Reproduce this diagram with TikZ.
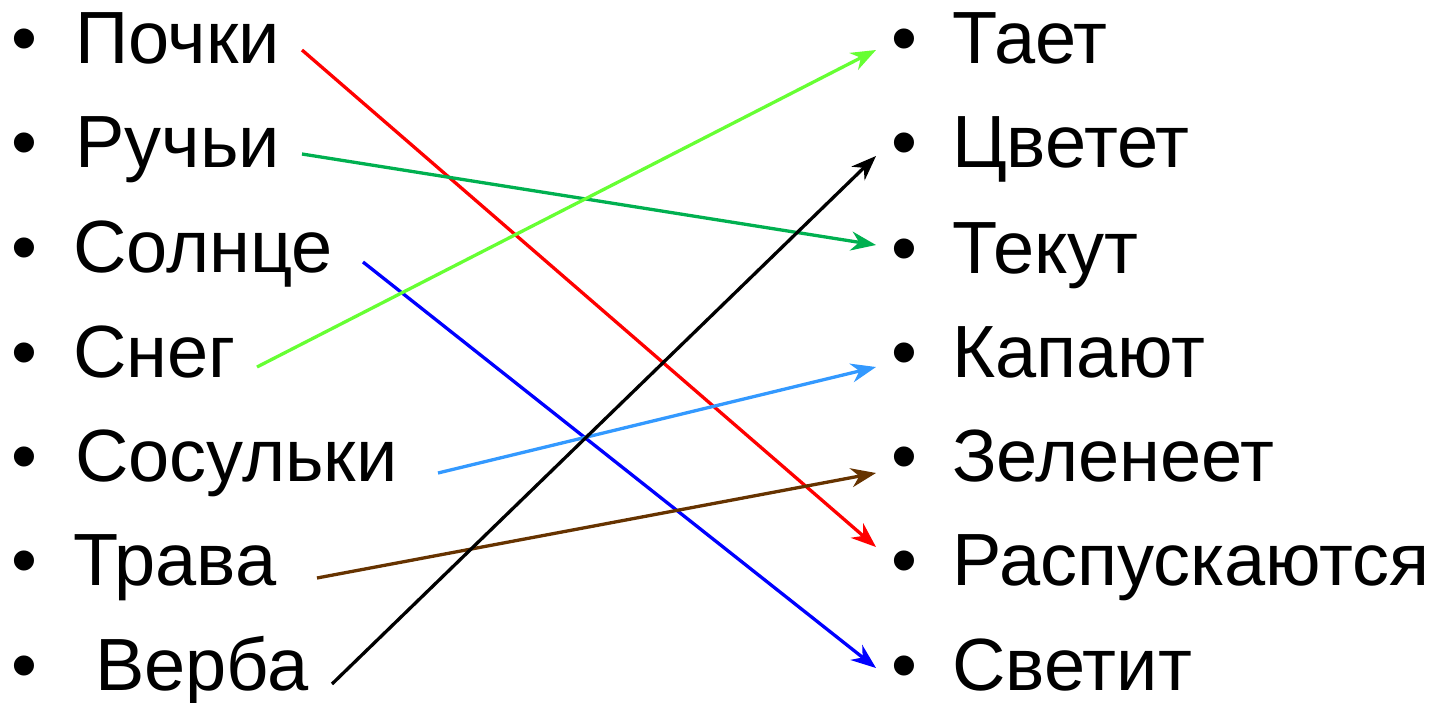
\documentclass[tikz,border=0pt]{standalone}
\usepackage{fontspec}
\setmainfont{Liberation Sans}
\usetikzlibrary{arrows.meta}
\definecolor{springgreen}{HTML}{66FF33}
\definecolor{leafgreen}{HTML}{00B050}
\definecolor{skyblue}{HTML}{3399FF}
\definecolor{barkbrown}{HTML}{663300}

\begin{document}
\begin{tikzpicture}[x=1pt,y=-1pt,every node/.style={font=\fontsize{74}{80}\selectfont,inner sep=0pt},
 link/.style={line width=3.3pt,-{Stealth[length=25pt,width=19pt,inset=8pt]}}]
\useasboundingbox (0,0) rectangle (1438,702);
% left column
\foreach \n/\x/\y/\txt in {pochki/75/63/Почки,ruchi/75/167/Ручьи,solnce/73/272/Солнце,sneg/73/377/Снег,
 sosulki/75/481/Сосульки,trava/73/585/Трава,verba/95/690/Верба}{
 \node[anchor=base] (\n-dot) at (24,\y) {•};
 \node[anchor=base west] (\n) at (\x,\y) {\txt};}
% right column
\foreach \n/\x/\y/\txt in {taet/952/63/Тает,cvetet/952/167/Цветет,tekut/952/273/Текут,kapayut/952/377/Капают,
 zeleneet/952/481/Зеленеет,raspusk/952/585/Распускаются,svetit/952/690/Светит}{
 \node[anchor=base] (\n-dot) at (904,\y) {•};
 \node[anchor=base west] (\n) at (\x,\y) {\txt};}
% arrow ends
\coordinate (pochki-out) at (302,50);
\coordinate (ruchi-out) at (302,154);
\coordinate (solnce-out) at (363,262);
\coordinate (sneg-out) at (257,367);
\coordinate (sosulki-out) at (438,473);
\coordinate (trava-out) at (317,578);
\coordinate (verba-out) at (332,684);
\coordinate (taet-in) at (876,50);
\coordinate (cvetet-in) at (876,156);
\coordinate (tekut-in) at (876,245);
\coordinate (kapayut-in) at (876,367);
\coordinate (zeleneet-in) at (876,473);
\coordinate (raspusk-in) at (876,547);
\coordinate (svetit-in) at (876,668);
\foreach \a/\b/\c in {pochki/raspusk/red,ruchi/tekut/leafgreen,solnce/svetit/blue,sneg/taet/springgreen,
 sosulki/kapayut/skyblue,trava/zeleneet/barkbrown,verba/cvetet/black}
 \draw[link,\c] (\a-out) -- (\b-in);
\end{tikzpicture}
\end{document}
